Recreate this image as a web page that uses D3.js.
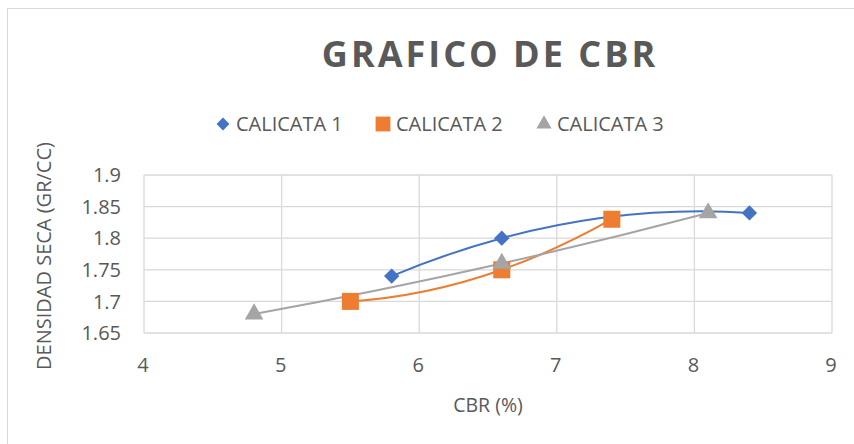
<!DOCTYPE html>
<html>
<head>
<meta charset="utf-8">
<script src="https://cdn.jsdelivr.net/npm/d3@7"></script>
<style>
  body { margin: 0; background: #fff; }
  text { font-family: "Open Sans", "Noto Sans", sans-serif; fill: #595959; }
</style>
</head>
<body>
<div id="chart"></div>
<script>
// Data
const seriesNames = ["CALICATA 1", "CALICATA 2", "CALICATA 3"];
const calicata1 = [[5.8, 1.74], [6.6, 1.80], [8.4, 1.84]];
const calicata2 = [[5.5, 1.70], [6.6, 1.75], [7.4, 1.83]];
const calicata3 = [[4.8, 1.68], [6.6, 1.76], [8.1, 1.84]];
const xTicks = [4, 5, 6, 7, 8, 9];
const yTicks = [1.65, 1.7, 1.75, 1.8, 1.85, 1.9];
const colors = ["#4472C4", "#ED7D31", "#A5A5A5"];
const symbols = [d3.symbolDiamond2, d3.symbolSquare, d3.symbolTriangle];

const W = 854, H = 444;
const plot = { left: 144, right: 832, top: 175, bottom: 333 };

const svg = d3.select("#chart").append("svg")
  .attr("width", W)
  .attr("height", H);

// chart area border
svg.append("rect")
  .attr("x", 7.5).attr("y", 8.5)
  .attr("width", W).attr("height", H)
  .attr("fill", "#fff")
  .attr("stroke", "#d9d9d9");

const x = d3.scaleLinear().domain([4, 9]).range([plot.left, plot.right]);
const y = d3.scaleLinear().domain([1.65, 1.9]).range([plot.bottom, plot.top]);

// gridlines
svg.append("g").selectAll("line")
  .data(yTicks)
  .join("line")
  .attr("x1", plot.left).attr("x2", plot.right)
  .attr("y1", d => y(d)).attr("y2", d => y(d))
  .attr("stroke", "#d9d9d9").attr("stroke-width", 1.3);

svg.append("g").selectAll("line")
  .data(xTicks)
  .join("line")
  .attr("x1", d => x(d)).attr("x2", d => x(d))
  .attr("y1", plot.top).attr("y2", plot.bottom)
  .attr("stroke", "#d9d9d9").attr("stroke-width", 1.3);

// tick labels
svg.append("g").selectAll("text")
  .data(yTicks)
  .join("text")
  .attr("x", plot.left - 23)
  .attr("y", d => y(d))
  .attr("dy", "0.36em")
  .attr("text-anchor", "end")
  .style("font-size", "20px")
  .text(d => d);

svg.append("g").selectAll("text")
  .data(xTicks)
  .join("text")
  .attr("x", d => x(d) - 1)
  .attr("y", 372)
  .attr("text-anchor", "middle")
  .style("font-size", "20px")
  .text(d => d);

// title
svg.append("text")
  .attr("x", 490).attr("y", 67)
  .attr("text-anchor", "middle")
  .style("font-size", "36px")
  .style("font-weight", "bold")
  .style("letter-spacing", "3px")
  .text("GRAFICO DE CBR");

// axis titles
svg.append("text")
  .attr("x", 488).attr("y", 412)
  .attr("text-anchor", "middle")
  .style("font-size", "19.5px")
  .text("CBR (%)");

svg.append("text")
  .attr("transform", "translate(51,256) rotate(-90)")
  .attr("text-anchor", "middle")
  .style("font-size", "20px")
  .text("DENSIDAD SECA (GR/CC)");

// smoothed line through the points (cubic Hermite, parabolic ends)
function smoothPath(data) {
  const px = data.map(d => x(d[0])), py = data.map(d => y(d[1]));
  const n = px.length, h = [], s = [], m = [];
  for (let i = 0; i < n - 1; i++) {
    h[i] = px[i + 1] - px[i];
    s[i] = (py[i + 1] - py[i]) / h[i];
  }
  for (let i = 1; i < n - 1; i++) {
    m[i] = (h[i] * s[i - 1] + h[i - 1] * s[i]) / (h[i - 1] + h[i]);
  }
  if (n === 2) { m[0] = m[1] = s[0]; }
  else {
    m[0] = 2 * s[0] - m[1];
    m[n - 1] = 2 * s[n - 2] - m[n - 2];
  }
  const p = d3.path();
  p.moveTo(px[0], py[0]);
  for (let i = 0; i < n - 1; i++) {
    p.bezierCurveTo(px[i] + h[i] / 3, py[i] + m[i] * h[i] / 3,
      px[i + 1] - h[i] / 3, py[i + 1] - m[i + 1] * h[i] / 3,
      px[i + 1], py[i + 1]);
  }
  return p.toString();
}

// series
const allSeries = [calicata1, calicata2, calicata3];

allSeries.forEach((data, i) => {
  svg.append("path")
    .attr("fill", "none")
    .attr("stroke", colors[i])
    .attr("stroke-width", 2)
    .attr("d", smoothPath(data));
});

const symSizes = [150, 290, 150];
allSeries.forEach((data, i) => {
  svg.append("g").selectAll("path")
    .data(data)
    .join("path")
    .attr("transform", d => `translate(${x(d[0])},${y(d[1])})`)
    .attr("d", d3.symbol().type(symbols[i]).size(symSizes[i]))
    .attr("fill", colors[i]);
});

// legend
const legendX = [223, 383, 544];
const legendSizes = [105, 220, 100];
const legend = svg.append("g");
seriesNames.forEach((name, i) => {
  legend.append("path")
    .attr("transform", `translate(${legendX[i]},124)`)
    .attr("d", d3.symbol().type(symbols[i]).size(legendSizes[i]))
    .attr("fill", colors[i]);
  legend.append("text")
    .attr("x", legendX[i] + 13)
    .attr("y", 124)
    .attr("dy", "0.36em")
    .style("font-size", "20px")
    .text(name);
});
</script>
</body>
</html>
